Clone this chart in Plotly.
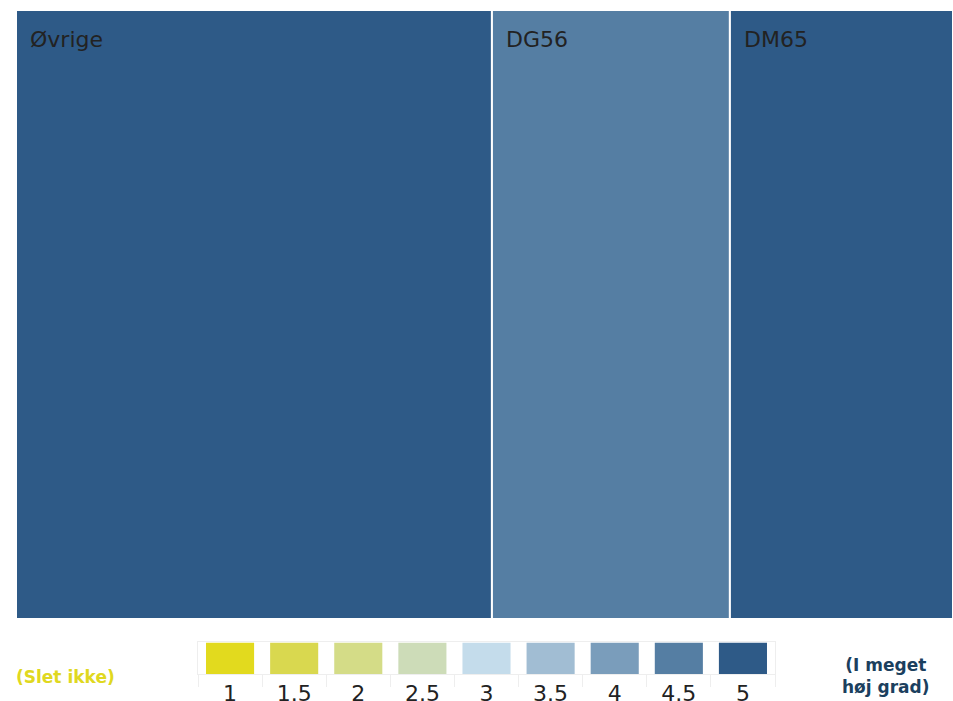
import plotly.graph_objects as go

# Treemap data
labels = ["Øvrige", "DG56", "DM65"]
sizes = [32, 16, 15]
scores = [5, 4.5, 5]

# Legend data
legend_levels = ["1", "1.5", "2", "2.5", "3", "3.5", "4", "4.5", "5"]
legend_colors = ["#e2da1e", "#d9d84f", "#d4dc87", "#cddcb8", "#c4dceb",
                 "#a1bdd3", "#7a9dbb", "#557ea3", "#2e5a87"]
low_label = "(Slet ikke)"
high_label = "(I meget<br>høj grad)"

color_of = dict(zip([float(v) for v in legend_levels], legend_colors))
tile_colors = [color_of[s] for s in scores]

W, H = 953, 701       # target picture size
FIG_H = 706           # figure height


def px(x):
    return x / W


def py(y):
    return 1 - y / H


TX0, TX1 = px(16), 1.0
TY0, TY1 = py(618), py(10)

fig = go.Figure()
fig.add_trace(go.Treemap(
    labels=labels,
    parents=[""] * len(labels),
    values=sizes,
    sort=False,
    textinfo="none",
    marker=dict(colors=tile_colors, line=dict(color="white", width=2),
                pad=dict(t=0, l=0, r=0, b=0)),
    tiling=dict(packing="dice", pad=0),
    pathbar=dict(visible=False),
    domain=dict(x=[TX0, TX1], y=[TY0, TY1]),
    hoverinfo="label+value",
))

# tile labels placed at each tile's top-left corner (computed from sizes)
total = float(sum(sizes))
annotations = []
cum = 0.0
for lab, s in zip(labels, sizes):
    x_left = TX0 + (TX1 - TX0) * cum / total
    annotations.append(dict(
        text=lab, x=x_left, y=TY1, xref="paper", yref="paper",
        xanchor="left", yanchor="top", xshift=12, yshift=-15,
        showarrow=False,
        font=dict(family="DejaVu Sans", size=22, color="#222222"),
    ))
    cum += s

fig.add_trace(go.Bar(
    x=legend_levels,
    y=[1] * len(legend_levels),
    width=0.75,
    marker=dict(color=legend_colors, line=dict(width=0)),
    xaxis="x", yaxis="y",
    showlegend=False,
    hoverinfo="skip",
))

annotations += [
    dict(text="<b>" + low_label + "</b>", x=px(65), y=py(676),
         xref="paper", yref="paper", showarrow=False,
         xanchor="center", yanchor="middle",
         font=dict(family="DejaVu Sans", size=17, color="#e0d820")),
    dict(text="<b>" + high_label + "</b>", x=px(886), y=py(675),
         xref="paper", yref="paper", showarrow=False,
         xanchor="center", yanchor="middle",
         font=dict(family="DejaVu Sans", size=17, color="#1b3f5e")),
]

fig.update_layout(
    width=W, height=FIG_H,
    margin=dict(l=0, r=0, t=0, b=0),
    paper_bgcolor="white",
    plot_bgcolor="white",
    showlegend=False,
    xaxis=dict(
        domain=[px(198), px(775)],
        anchor="y",
        type="category",
        showline=True, mirror=True, linecolor="#eeeeee", linewidth=1,
        ticks="outside", ticklen=12, tickcolor="#eeeeee", tickson="boundaries",
        showgrid=False, zeroline=False,
        tickfont=dict(family="DejaVu Sans", size=22, color="#222222"),
        fixedrange=True,
    ),
    yaxis=dict(
        domain=[py(673), py(641)],
        anchor="x",
        range=[0, 1.03],
        showline=True, mirror=True, linecolor="#eeeeee", linewidth=1,
        showticklabels=False, showgrid=False, zeroline=False, ticks="",
        fixedrange=True,
    ),
    annotations=annotations,
)

fig.write_html(
    "out.html",
    config={"displayModeBar": False},
    post_script=(
        "var gd=document.getElementById('{plot_id}');"
        "gd.style.position='fixed';gd.style.left='0px';gd.style.top='0px';"
        "document.documentElement.style.margin='0';"
        "document.documentElement.style.overflow='hidden';"
        "document.body.style.margin='0';"
        "document.body.style.overflow='hidden';"
    ),
)
